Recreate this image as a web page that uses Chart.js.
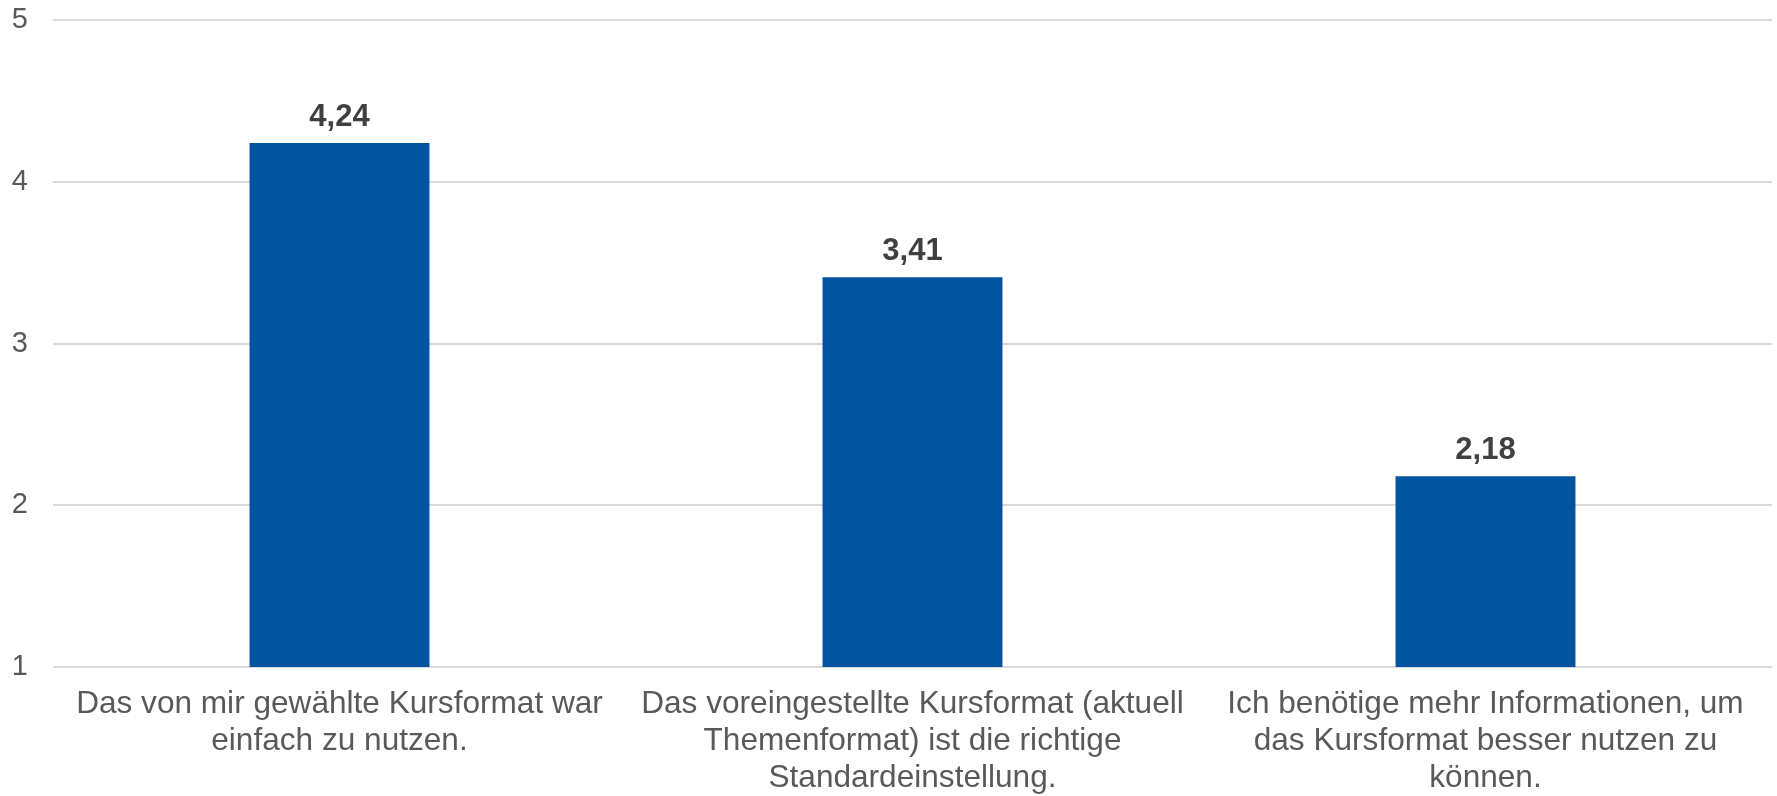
<html>
<head>
<script src="https://cdn.jsdelivr.net/npm/chart.js"></script>
<style>
  body { margin: 0; background: #fff; }
  #wrap { width: 1777px; height: 796px; }
</style>
</head>
<body>
<div id="wrap"><canvas id="myChart" width="1777" height="796"></canvas></div>
<script>
    // Werte aus dem Diagramm
    var categories = [
        ['Das von mir gewählte Kursformat war', 'einfach zu nutzen.'],
        ['Das voreingestellte Kursformat (aktuell', 'Themenformat) ist die richtige', 'Standardeinstellung.'],
        ['Ich benötige mehr Informationen, um', 'das Kursformat besser nutzen zu', 'können.']
    ];
    var values = [4.24, 3.41, 2.18];
    var yTicks = [1, 2, 3, 4, 5];

    var sans = "'Liberation Sans', Arial, sans-serif";

    // eigene Beschriftung der Balken (kein datalabels-Plugin)
    var valueLabels = {
        id: 'valueLabels',
        afterDatasetsDraw: function(chart) {
            var ctx = chart.ctx;
            var meta = chart.getDatasetMeta(0);
            ctx.save();
            ctx.font = 'bold 31px ' + sans;
            ctx.fillStyle = '#404040';
            ctx.textAlign = 'center';
            ctx.textBaseline = 'alphabetic';
            meta.data.forEach(function(bar, i) {
                ctx.fillText(values[i].toFixed(2).replace('.', ','), bar.x, bar.y - 17);
            });
            ctx.restore();
        }
    };

    var dataObj = {
        type: 'bar',
        data: {
            labels: categories,
            datasets: [{
                data: values,
                backgroundColor: '#0054A0',
                categoryPercentage: 1.0,
                barPercentage: 0.314
            }]
        },
        options: {
            responsive: false,
            animation: false,
            layout: { padding: { left: 0, right: 5, top: 20, bottom: 0 } },
            plugins: {
                legend: { display: false },
                tooltip: { enabled: false }
            },
            scales: {
                x: {
                    grid: { display: false, drawTicks: false },
                    border: { display: false },
                    ticks: {
                        color: '#595959',
                        font: { family: sans, size: 31.6, lineHeight: 1.17 },
                        padding: 19,
                        maxRotation: 0,
                        autoSkip: false
                    },
                    afterFit: function(scale) {
                        scale.height = 129;
                        scale.paddingLeft = 0;
                        scale.paddingRight = 0;
                    }
                },
                y: {
                    min: 1,
                    max: 5,
                    afterBuildTicks: function(scale) {
                        scale.ticks = yTicks.map(function(v) { return { value: v }; });
                    },
                    grid: { color: '#D9D9D9', lineWidth: 2, drawTicks: false },
                    border: { display: false },
                    ticks: {
                        color: '#595959',
                        font: { family: sans, size: 29 },
                        padding: 25
                    },
                    afterFit: function(scale) {
                        scale.width = 53;
                        scale.paddingTop = 0;
                        scale.paddingBottom = 0;
                    }
                }
            }
        },
        plugins: [valueLabels]
    };
    var ctx = document.getElementById('myChart').getContext('2d');
    window.myBar = new Chart(ctx, dataObj);
</script>
</body>
</html>
